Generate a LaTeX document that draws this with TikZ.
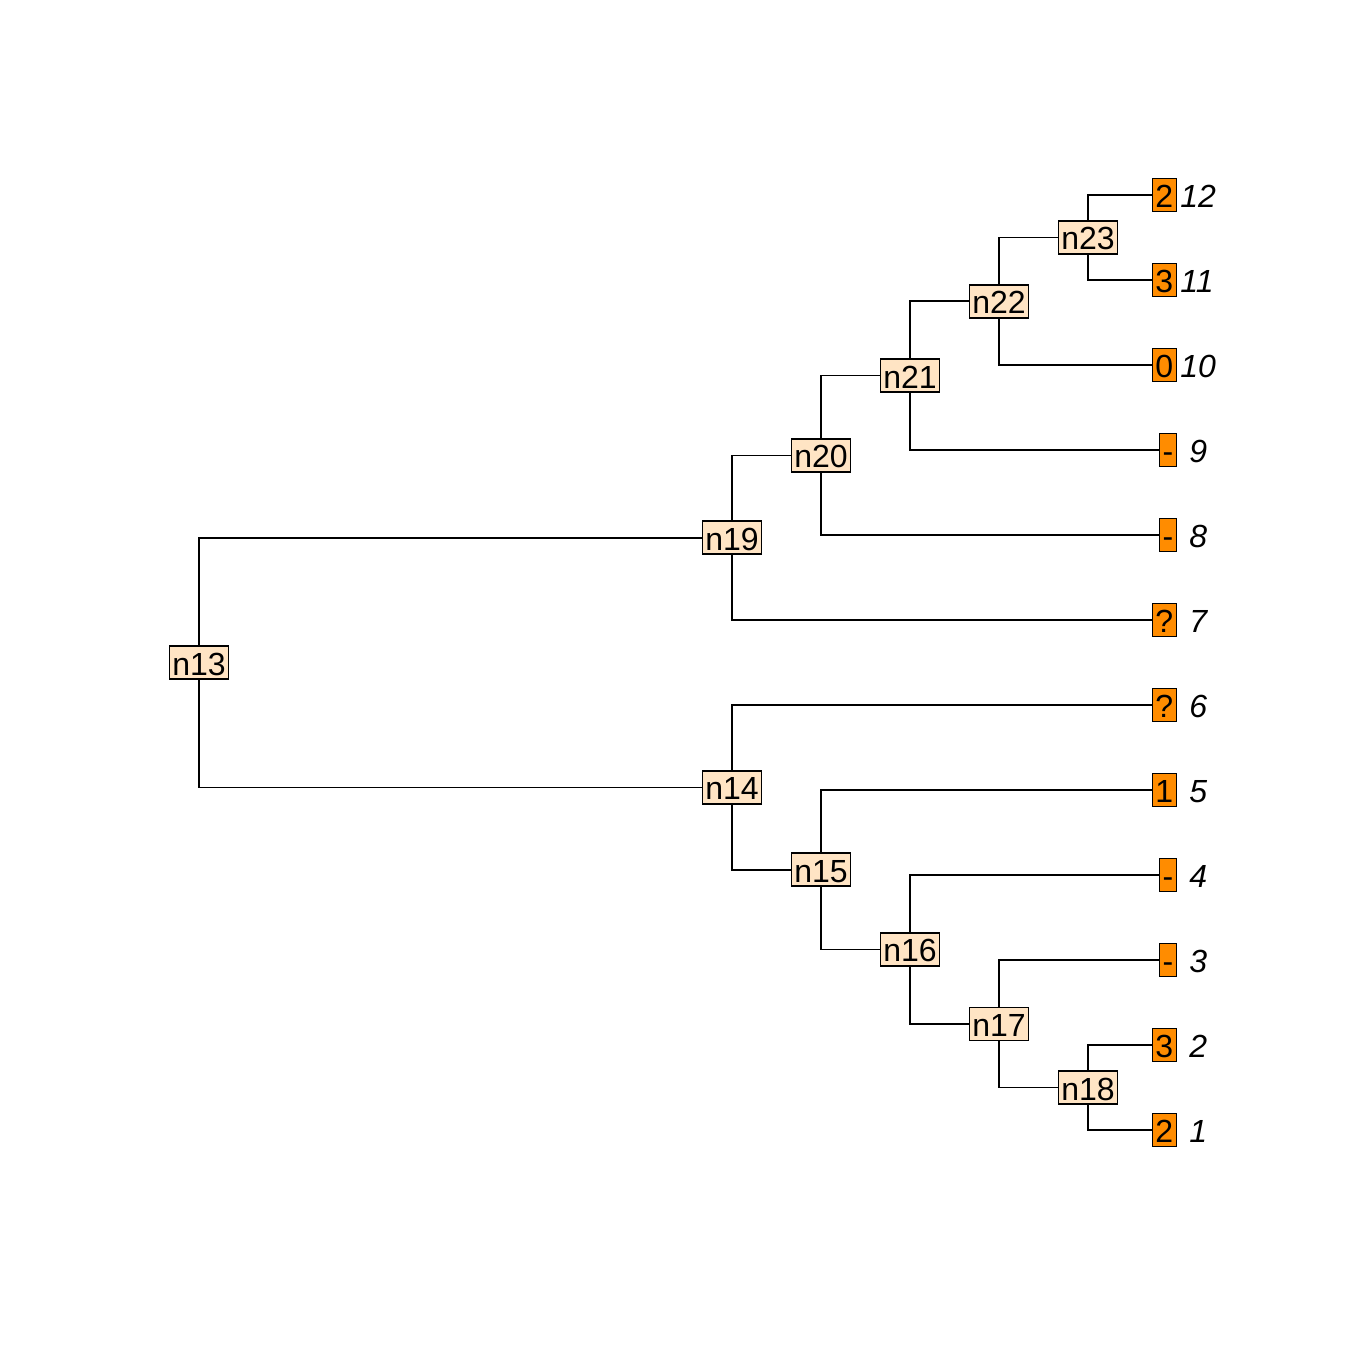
\documentclass[tikz,border=0pt]{standalone}
\usepackage{fontspec}
\setmainfont{Liberation Sans}
\usetikzlibrary{positioning}
\definecolor{NodeBisque}{RGB}{255,228,196}
\definecolor{TipOrange}{RGB}{255,140,0}
\tikzset{
    innode/.style={
        draw, line width=0.75pt, fill=NodeBisque, inner xsep=1.5pt, inner ysep=0pt,
        text height=14.5pt, text depth=2pt, font=\fontsize{16}{16}\selectfont
    },
    tipbox/.style={
        draw, line width=0.75pt, fill=TipOrange, inner xsep=1.5pt, inner ysep=0pt,
        text height=14.5pt, text depth=2pt, anchor=east, font=\fontsize{16}{16}\selectfont
    },
    tiplab/.style={
        inner xsep=1.5pt, inner ysep=0pt, text height=14.5pt, text depth=2pt,
        font=\fontsize{16}{16}\selectfont\itshape
    },
    branch/.style={
        line width=0.8pt
    }
}
\begin{document}
\begin{tikzpicture}[x=0.5pt, y=-0.5pt]
    \useasboundingbox (0,0) rectangle (1363,1363);
    % tips
    \foreach \i/\s in {1/2, 2/3, 3/-, 4/-, 5/1, 6/?, 7/?, 8/-, 9/-, 10/0, 11/3, 12/2} {
        \node[tipbox] (b\i) at (1177,{1130-85*(\i-1)}) {\s};
        \node[tiplab, right=0pt of b\i] {\ifnum\i<10\ \fi\i};
    }
    % internal nodes
    \node[innode] (n13) at (199,662.5) {n13};
    \node[innode] (n19) at (732,537.7) {n19};
    \node[innode] (n20) at (821,455.3) {n20};
    \node[innode] (n21) at (910,375.6) {n21};
    \node[innode] (n22) at (999,301.3) {n22};
    \node[innode] (n23) at (1088,237.5) {n23};
    \node[innode] (n14) at (732,787.3) {n14};
    \node[innode] (n15) at (821,869.7) {n15};
    \node[innode] (n16) at (910,949.4) {n16};
    \node[innode] (n17) at (999,1023.8) {n17};
    \node[innode] (n18) at (1088,1087.5) {n18};
    % branches
    \draw[branch] (n13) |- (n19);
    \draw[branch] (n13) |- (n14);
    \draw[branch] (n19) |- (n20);
    \draw[branch] (n19) |- (b7);
    \draw[branch] (n20) |- (n21);
    \draw[branch] (n20) |- (b8);
    \draw[branch] (n21) |- (n22);
    \draw[branch] (n21) |- (b9);
    \draw[branch] (n22) |- (n23);
    \draw[branch] (n22) |- (b10);
    \draw[branch] (n23) |- (b12);
    \draw[branch] (n23) |- (b11);
    \draw[branch] (n14) |- (b6);
    \draw[branch] (n14) |- (n15);
    \draw[branch] (n15) |- (b5);
    \draw[branch] (n15) |- (n16);
    \draw[branch] (n16) |- (b4);
    \draw[branch] (n16) |- (n17);
    \draw[branch] (n17) |- (b3);
    \draw[branch] (n17) |- (n18);
    \draw[branch] (n18) |- (b2);
    \draw[branch] (n18) |- (b1);
\end{tikzpicture}
\end{document}
